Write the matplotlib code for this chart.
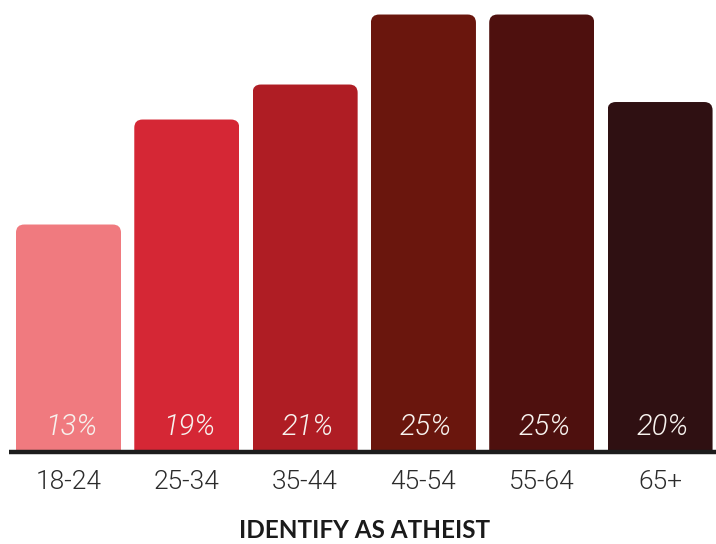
import matplotlib
matplotlib.use("Agg")
import matplotlib.pyplot as plt
from matplotlib.patches import FancyBboxPatch, Rectangle

# share of each age group identifying as atheist
ages = ["18-24", "25-34", "35-44", "45-54", "55-64", "65+"]
shares = [13, 19, 21, 25, 25, 20]
colors = ["#F07A7F", "#D52735", "#AF1D24", "#6A160D", "#4E100E", "#2F1012"]

fig = plt.figure(figsize=(7.16, 5.44), dpi=100)
ax = fig.add_axes([0, 0, 1, 1])
ax.set_xlim(-0.579, 5.473)
ax.set_ylim(-5.257, 25.83)
ax.axis("off")

x = list(range(len(ages)))
bars = ax.bar(x, shares, width=0.888, color=colors)

# swap the plain rectangles for ones with rounded tops
for b in bars:
    x0, w, h = b.get_x(), b.get_width(), b.get_height()
    b.set_visible(False)
    p = FancyBboxPatch((x0, -2), w, h + 2,
                       boxstyle="round,pad=0,rounding_size=0.07",
                       mutation_aspect=6.76, fc=b.get_facecolor(), ec="none")
    ax.add_patch(p)
    p.set_clip_path(Rectangle((x0, 0), w, h + 1, transform=ax.transData))

ax.plot([-0.5, 5.5], [0, 0], color="#1c1c1c", lw=3.2, solid_capstyle="butt", zorder=5)

for xi, v, lab in zip(x, shares, ages):
    ax.text(xi + 0.02, 1.43, f"{v}%", ha="center", va="center", color="#f7f2ee",
            fontsize=21, family="Roboto", style="italic", weight=300)
    ax.text(xi, -1.7, lab, ha="center", va="center", color="#2b2b2b",
            fontsize=19, family="Roboto", weight=300)

ax.text(2.5, -4.5, "IDENTIFY AS ATHEIST", ha="center", va="center",
        color="#1a1a1a", fontsize=17.5, family="Lato", weight="bold")

fig.savefig("out.png", dpi=100)
